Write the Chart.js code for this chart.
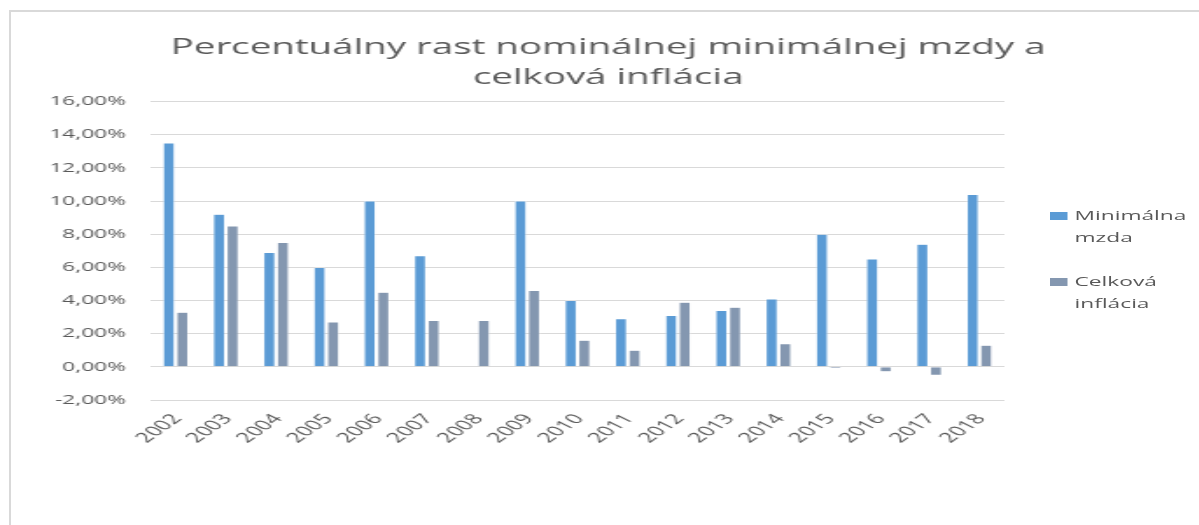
<!DOCTYPE html>
<html>
<head>
<meta charset="utf-8">
<script src="https://cdn.jsdelivr.net/npm/chart.js@4/dist/chart.umd.min.js"></script>
<style>
  html, body { margin: 0; padding: 0; background: #fff; overflow: hidden; }
  #frame {
    position: absolute; left: 9px; top: 10px; width: 1300px; height: 600px;
    border: 2px solid #d9d9d9; box-sizing: border-box;
  }
  /* the source picture is stretched sideways, so draw narrow and stretch */
  #wrap {
    position: absolute; left: 0; top: 0; width: 685px; height: 525px;
    transform: scaleX(1.75); transform-origin: 0 0;
  }
  .leg { position: absolute; left: 600px; font: 13px "Open Sans", sans-serif; color: #595959; line-height: 22px; }
  .leg span { position: absolute; left: 0; top: 8px; width: 10px; height: 8px; }
  .leg div { margin-left: 14px; }
</style>
</head>
<body>
<div id="frame"></div>
<div id="wrap">
  <canvas id="chart"></canvas>
  <div class="leg" style="top:204px"><span style="background:#5b9bd5"></span><div>Minimálna<br>mzda</div></div>
  <div class="leg" style="top:270px"><span style="background:#8497b0"></span><div>Celková<br>inflácia</div></div>
</div>
<script>
// years on the x axis
const years = ["2002", "2003", "2004", "2005", "2006", "2007", "2008", "2009", "2010",
  "2011", "2012", "2013", "2014", "2015", "2016", "2017", "2018"];

// growth of nominal minimum wage, %
const minWage = [13.5, 9.2, 6.9, 6.0, 10.0, 6.7, null, 10.0, 4.0, 2.9, 3.1, 3.4, 4.1, 8.0, 6.5, 7.4, 10.4];

// total inflation, %
const inflation = [3.3, 8.5, 7.5, 2.7, 4.5, 2.8, 2.8, 4.6, 1.6, 1.0, 3.9, 3.6, 1.4, -0.1, -0.3, -0.5, 1.3];

const titleLines = ["Percentuálny rast nominálnej minimálnej mzdy a", "celková inflácia"];

const gray = "#595959";

const data = {
  labels: years,
  datasets: [
    {
      label: "Minimálna mzda",
      backgroundColor: "#5b9bd5",
      borderColor: "#ffffff",
      borderWidth: 0.5,
      data: minWage,
    },
    {
      label: "Celková inflácia",
      backgroundColor: "#8497b0",
      borderColor: "#ffffff",
      borderWidth: 0.5,
      data: inflation,
    },
  ],
};

const config = {
  type: "bar",
  data: data,
  options: {
    responsive: true,
    maintainAspectRatio: false,
    animation: false,
    categoryPercentage: 0.54,
    barPercentage: 0.85,
    layout: { padding: { left: 10, right: 0, top: 0, bottom: 0 } },
    plugins: {
      legend: { display: false },
      tooltip: { enabled: false },
      title: {
        display: true,
        text: titleLines,
        color: gray,
        font: { family: "'Open Sans', sans-serif", size: 22, weight: "normal", lineHeight: 1.4 },
        padding: { top: 32, bottom: 8 },
      },
    },
    scales: {
      x: {
        grid: { display: false, drawTicks: false },
        border: { display: false },
        ticks: {
          color: gray,
          font: { family: "'Open Sans', sans-serif", size: 14 },
          maxRotation: 50,
          minRotation: 50,
          padding: 11,
          labelOffset: 1,
        },
        afterFit(scale) {
          scale.height = 125;
        },
      },
      y: {
        min: -2,
        max: 16,
        grid: { color: "#d9d9d9", lineWidth: 1, drawTicks: false },
        border: { display: false },
        ticks: {
          stepSize: 2,
          color: gray,
          font: { family: "'Open Sans', sans-serif", size: 13 },
          padding: 14,
          callback: (v) => v.toFixed(2).replace(".", ",") + "%",
        },
        afterFit(scale) {
          scale.width = 76;
        },
      },
      // empty right-hand axis that only keeps room for the legend
      side: {
        position: "right",
        min: 0,
        max: 1,
        grid: { display: false, drawTicks: false },
        border: { display: false },
        ticks: { display: false },
        afterFit(scale) {
          scale.width = 111;
        },
      },
    },
  },
};

const chart = new Chart(document.getElementById("chart"), config);
</script>
</body>
</html>
